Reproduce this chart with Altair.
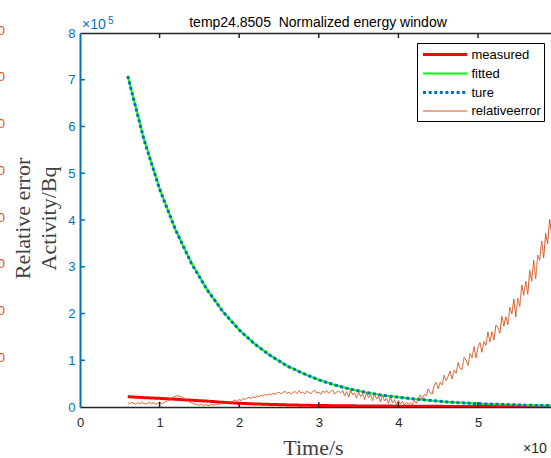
import altair as alt
import pandas as pd

# ---------------- data ----------------
series_names = ["measured", "fitted", "ture", "relativeerror"]
series_colors = ["#FF0000", "#00FF00", "#0072BD", "#D95319"]
series_dash = [[1, 0], [1, 0], [3, 2.6], [1, 0]]
series_width = [3, 2, 3, 1]

# time in seconds (axis shows x 10^4)
time_s = [6000, 8000, 10000, 12000, 14000, 16000, 18000, 20000, 22000, 24000,
          26000, 28000, 30000, 32000, 34000, 36000, 38000, 40000, 42000, 44000,
          46000, 48000, 50000, 52000, 54000, 56000, 58000, 60000]

# activity in units of 10^5 Bq
fitted_e5 = [7.08, 5.75, 4.67, 3.79, 3.08, 2.50, 2.03, 1.65, 1.34, 1.09,
             0.88, 0.72, 0.58, 0.47, 0.38, 0.31, 0.25, 0.21, 0.17, 0.14,
             0.11, 0.09, 0.07, 0.06, 0.05, 0.04, 0.03, 0.03]
ture_e5 = [7.08, 5.74, 4.66, 3.79, 3.07, 2.50, 2.03, 1.65, 1.34, 1.09,
           0.88, 0.72, 0.58, 0.47, 0.38, 0.31, 0.25, 0.21, 0.17, 0.14,
           0.11, 0.09, 0.07, 0.06, 0.05, 0.04, 0.03, 0.03]
measured_e5 = [0.22, 0.20, 0.185, 0.165, 0.145, 0.125, 0.10, 0.08, 0.065, 0.055,
               0.045, 0.038, 0.032, 0.028, 0.025, 0.022, 0.02, 0.018, 0.016, 0.015,
               0.013, 0.012, 0.011, 0.01, 0.009, 0.008, 0.008, 0.007]

# relative error, sampled every 250 s from 6000 s
rel_error = [
    0.9, 0.7, 1.0, 0.8, 0.6, 0.9, 0.7, 1.0, 0.8, 0.6, 0.8, 1.0, 0.7, 0.9, 0.6, 0.8, 1.0, 0.7, 0.9, 1.1,
    1.3, 1.6, 1.9, 2.1, 2.3, 2.4, 2.3, 2.2, 2.0, 1.7, 1.4, 1.1, 0.9, 0.7, 0.6, 0.5,
    0.4, 0.6, 0.3, 0.5, 0.4, 0.3, 0.6, 0.4, 0.5, 0.7, 0.5, 0.8,
    0.7, 1.0, 0.9, 1.2, 1.0, 1.3, 1.5, 1.2, 1.6, 1.4, 1.8, 1.6, 1.9, 2.1, 1.8, 2.2, 2.0, 2.4, 2.2, 2.5,
    2.3, 2.7, 2.5, 2.8, 2.6, 2.9, 2.7, 3.0,
    3.2, 2.8, 3.1, 3.4, 2.9, 3.2, 2.7, 3.1, 3.3, 2.9, 3.5, 3.0, 3.2, 2.8, 3.4, 3.1, 2.9, 3.3, 3.6, 3.0,
    3.2, 2.7, 3.4, 3.1, 3.5, 2.9, 3.3, 3.6, 2.8, 3.2, 3.4, 3.0,
    3.5, 2.4, 3.3, 2.1, 3.6, 2.6, 3.0, 1.9, 3.2, 2.2, 2.9, 1.6, 3.1, 2.0, 2.6, 1.4, 2.8, 1.7, 2.3, 1.1,
    2.5, 1.3, 1.9, 0.8, 2.1, 0.9, 1.6, 0.5, 1.4, 0.7, 1.2, 0.4, 1.0, 0.6, 0.9, 0.5,
    1.4, 0.8, 1.8, 2.6, 1.6, 2.7, 2.4, 3.9, 3.0, 2.8, 4.6, 5.3, 3.9, 5.3, 4.7, 6.8, 5.6, 6.6, 7.7, 6.0,
    7.9, 7.2, 9.5, 8.3, 8.0, 10.6, 10.0, 8.9, 11.4, 10.5, 12.9, 10.5, 12.8, 13.8, 11.7, 14.0, 13.2, 16.1,
    13.9, 16.1, 14.3, 17.5, 17.0, 15.8, 19.4, 17.3, 19.3, 17.6, 21.3, 19.9, 23.1, 19.3, 23.3, 21.5,
    26.1, 23.9, 26.9, 24.1, 29.2, 26.9, 31.4, 27.4, 32.5, 31.4, 35.5, 31.9, 37.1, 34.9, 40.1, 36.8,
]
time_err = [6000 + 250 * i for i in range(len(rel_error))]

activity_ticks = [0, 100000, 200000, 300000, 400000, 500000, 600000, 700000, 800000]
activity_inner_ticks = [100000, 200000, 300000, 400000, 500000, 600000, 700000]
time_ticks = [0, 10000, 20000, 30000, 40000, 50000]
time_inner_ticks = [10000, 20000, 30000, 40000, 50000]
error_ticks = [10, 20, 30, 40, 50, 60, 70, 80]

# ---------------- style ----------------
FONT = "Liberation Sans"
SERIF = "Liberation Serif"
BLUE = "#0072BD"
ORANGE = "#D95319"
AX = "#262626"
LABEL_GRAY = "#404040"
W, H = 471, 374


def xs():
    return alt.Scale(domain=[0, 59171], nice=False, zero=False)


def ys():
    return alt.Scale(domain=[0, 800000], nice=False, zero=False)


legend = alt.Legend(
    title=None, orient="none", legendX=337, legendY=10,
    fillColor="white", strokeColor="black", padding=3, cornerRadius=0,
    labelFont=FONT, labelFontSize=13, labelColor="black",
    symbolType="M-3.14,0H3.14", symbolSize=196, symbolOffset=16.5,
    labelOffset=18, rowPadding=3.5,
)
color_enc = alt.Color("series:N", scale=alt.Scale(domain=series_names, range=series_colors), legend=legend)
dash_enc = alt.StrokeDash("series:N", scale=alt.Scale(domain=series_names, range=series_dash), legend=legend)
width_enc = alt.StrokeWidth("series:N", scale=alt.Scale(type="ordinal", domain=series_names, range=series_width), legend=legend)

x_axis_bottom = alt.Axis(
    orient="bottom", values=time_ticks, labelExpr="datum.value / 10000",
    ticks=False, grid=False, domainColor=AX, domainWidth=1.5,
    labelColor=AX, labelFont=FONT, labelFontSize=13, labelPadding=9, labelFlush=False,
    title="Time/s", titleFont=SERIF, titleFontSize=22, titleFontWeight="normal",
    titleColor=LABEL_GRAY, titleX=233, titleY=47, titleBaseline="alphabetic", titleAlign="center",
)
x_axis_top = alt.Axis(orient="top", labels=False, ticks=False, grid=False,
                      domainColor=AX, domainWidth=1.5, title=None)
y_axis = alt.Axis(
    orient="left", values=activity_ticks, labelExpr="datum.value / 100000",
    ticks=False, grid=False, domainColor=BLUE, domainWidth=2,
    labelColor=BLUE, labelFont=FONT, labelFontSize=13, labelPadding=5, labelFlush=False,
    title=["Relative error", "Activity/Bq"], titleFont=SERIF, titleFontSize=22,
    titleFontWeight="normal", titleColor=LABEL_GRAY, titleAngle=270,
    titleX=-51, titleY=185, titleAlign="center", titleBaseline="alphabetic", titleLineHeight=26,
)
err_axis = alt.Axis(
    orient="left", offset=75.5, values=error_ticks, ticks=False, domain=False, grid=False,
    labelColor=ORANGE, labelFont=FONT, labelFontSize=13, labelPadding=0, labelOffset=-3,
    labelFlush=False, title=None,
)


def activity_layer(values, name, axes=False):
    df = pd.DataFrame({"t": time_s, "activity": [v * 1e5 for v in values], "series": name})
    return alt.Chart(df).mark_line(clip=True, strokeCap="butt").encode(
        x=alt.X("t:Q", scale=xs(), axis=x_axis_bottom if axes else None),
        y=alt.Y("activity:Q", scale=ys(), axis=y_axis if axes else None),
        color=color_enc, strokeDash=dash_enc, strokeWidth=width_enc,
    )


measured = activity_layer(measured_e5, "measured", axes=True)
fitted = activity_layer(fitted_e5, "fitted")
ture = activity_layer(ture_e5, "ture")

err_df = pd.DataFrame({"t": time_err, "err": rel_error, "series": "relativeerror"})
err = alt.Chart(err_df).mark_line(clip=True).encode(
    x=alt.X("t:Q", scale=xs(), axis=x_axis_top),
    y=alt.Y("err:Q", scale=alt.Scale(domain=[0, 80], nice=False), axis=err_axis),
    color=color_enc, strokeDash=dash_enc, strokeWidth=width_enc,
)

ytick_rules = alt.Chart(pd.DataFrame({"v": activity_inner_ticks})).mark_rule(
    color=BLUE, strokeWidth=1.5).encode(
    y=alt.Y("v:Q", scale=ys(), axis=None), x=alt.value(0), x2=alt.value(5))
xtick_top = alt.Chart(pd.DataFrame({"v": time_inner_ticks})).mark_rule(
    color=AX, strokeWidth=1.5).encode(
    x=alt.X("v:Q", scale=xs(), axis=None), y=alt.value(0), y2=alt.value(5))
xtick_bottom = alt.Chart(pd.DataFrame({"v": time_inner_ticks})).mark_rule(
    color=AX, strokeWidth=1.5).encode(
    x=alt.X("v:Q", scale=xs(), axis=None), y=alt.value(H - 5), y2=alt.value(H))

one = pd.DataFrame({"k": [0]})


def label(text, x, y, size, color):
    return alt.Chart(one).mark_text(
        font=FONT, fontSize=size, color=color, align="left", baseline="alphabetic", clip=False
    ).encode(x=alt.value(x), y=alt.value(y), text=alt.value(text))


exp_y_main = label("\u00d710", 2, -4, 14, BLUE)
exp_y_sup = label("5", 28, -9, 10, BLUE)
exp_x_main = label("\u00d710", 443, 420, 14, AX)
exp_x_sup = label("4", 474, 415, 10, AX)

chart = alt.layer(
    measured, fitted, ture, err, ytick_rules, xtick_top, xtick_bottom,
    exp_y_main, exp_y_sup, exp_x_main, exp_x_sup,
).resolve_scale(y="independent").resolve_axis(
    x="independent", y="independent"
).properties(
    width=W, height=H,
    title=alt.TitleParams(
        text="temp24.8505\u00a0 Normalized energy window", font=FONT, fontSize=14,
        fontWeight="normal", color="black", anchor="middle", frame="group", offset=-14, dx=2.5,
    ),
    padding={"left": 80, "top": 33, "right": 0, "bottom": 51},
    autosize=alt.AutoSizeParams(type="none"),
    background="white",
).configure_view(stroke=None).configure_legend(strokeWidth=1)

chart.save("out.html", embed_options={"renderer": "svg", "actions": False})
